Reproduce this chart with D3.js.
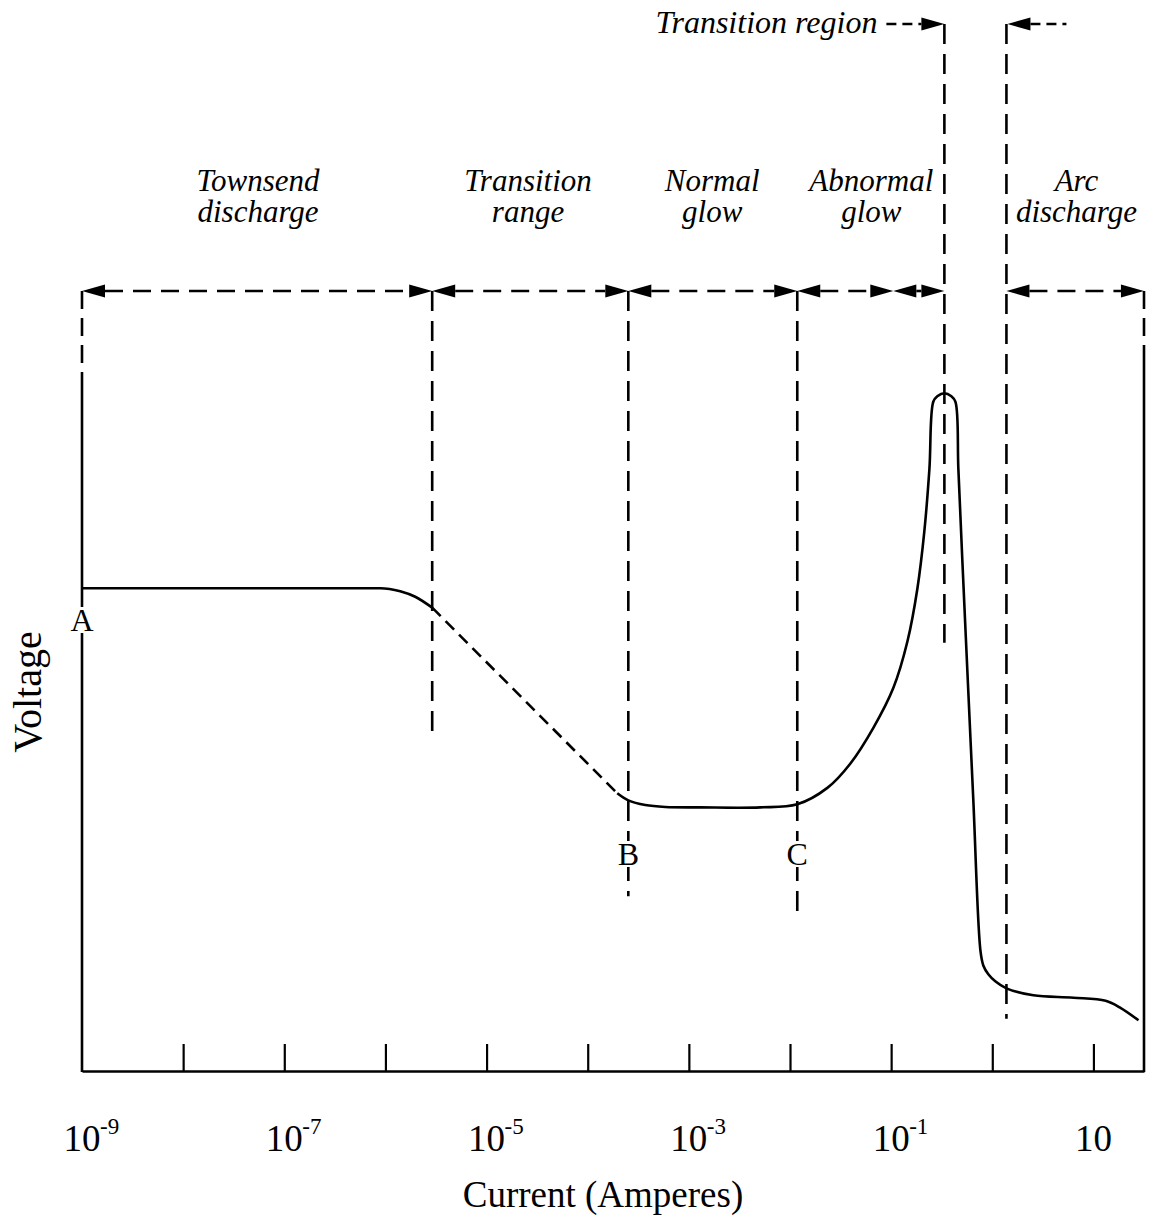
<!DOCTYPE html>
<html>
<head>
<meta charset="utf-8">
<script src="https://cdn.jsdelivr.net/npm/d3@7/dist/d3.min.js"></script>
<style>
  html, body { margin: 0; padding: 0; background: #fff; }
  svg { display: block; }
  text { font-family: "Liberation Serif", "Times New Roman", serif; fill: #000; }
</style>
</head>
<body>
<svg id="chart" width="1156" height="1222"></svg>
<script>
// ---------------- DATA ----------------
// Solid Townsend part (current in A, voltage in arbitrary units 0-100)
const seg1Current = [1e-9, 1.43e-7, 8.87e-7, 1.40e-6, 1.97e-6, 2.90e-6];
const seg1Voltage = [61.9, 61.9, 61.9, 61.5, 60.8, 59.4];
// Dashed transition range
const seg2Current = [2.90e-6, 1.96e-4];
const seg2Voltage = [59.4, 35.6];
// Solid glow / abnormal / arc part
const seg3Current = [1.96e-4, 2.52e-4, 3.71e-4, 5.85e-4, 1.30e-3, 5.08e-3, 1.18e-2, 2.34e-2, 3.94e-2,
  6.67e-2, 0.105, 0.145, 0.182, 0.213, 0.239, 0.261, 0.286, 0.336, 0.394, 0.432, 0.462, 0.506,
  0.581, 0.650, 0.764, 0.817, 0.914, 1.07, 1.38, 2.55, 6.34, 13.2, 18.5, 27.9];
const seg3Voltage = [35.6, 34.7, 34.1, 33.85, 33.8, 33.8, 34.2, 36.3, 39.4,
  44.0, 49.1, 55.1, 61.9, 69.2, 77.2, 85.8, 86.5, 86.9, 86.5, 85.8, 77.2, 65.4,
  48.3, 34.6, 15.4, 13.5, 12.4, 11.5, 10.6, 9.7, 9.4, 9.0, 8.1, 6.5];

// Region boundaries (current, A)
const boundaryCurrents = [2.90e-6, 2.52e-4, 1.18e-2, 0.336, 1.38];
const boundaryBottomVoltage = [42.6, 22.4, 20.2, 54.9, 6.7];
// Double-headed arrow spans
const spanStart = [1e-9, 2.90e-6, 2.52e-4, 1.18e-2, 0.105, 1.38];
const spanEnd   = [2.90e-6, 2.52e-4, 1.18e-2, 0.105, 0.336, 31.6];

// Region names
const regionTop    = ["Townsend", "Transition", "Normal", "Abnormal", "Arc"];
const regionBottom = ["discharge", "range", "glow", "glow", "discharge"];
const regionCenter = [5.5e-8, 2.57e-5, 1.70e-3, 6.37e-2, 6.8];

// Point labels
const pointNames   = ["A", "B", "C"];
const pointCurrent = [1e-9, 2.52e-4, 1.18e-2];

// Axis ticks
const tickCurrents  = [1e-8, 1e-7, 1e-6, 1e-5, 1e-4, 1e-3, 1e-2, 1e-1, 1, 10];
const labelCurrents = [1e-9, 1e-7, 1e-5, 1e-3, 1e-1, 10];
const labelBase     = ["10", "10", "10", "10", "10", "10"];
const labelExp      = ["-9", "-7", "-5", "-3", "-1", ""];

// ---------------- DRAW ----------------
const svg = d3.select("#chart");
const x = d3.scaleLog().domain([1e-9, Math.pow(10, 1.5)]).range([82, 1144]);
const y = d3.scaleLinear().domain([0, 100]).range([1071, 291]);

const LW = 2.6;
const yArrow = 291;
const yTop = 24;

// Axis (bottom) with upward ticks
const axis = d3.axisBottom(x).tickValues(tickCurrents).tickFormat("").tickSizeInner(-27).tickSizeOuter(0);
const gAxis = svg.append("g").attr("transform", `translate(0,${y(0)})`).call(axis);
gAxis.select(".domain").attr("stroke", "#000").attr("stroke-width", LW);
gAxis.selectAll(".tick line").attr("stroke", "#000").attr("stroke-width", 2.2);

// Left and right borders
const xL = x(1e-9), xR = x(Math.pow(10, 1.5));
svg.append("line").attr("x1", xL).attr("x2", xL).attr("y1", yArrow).attr("y2", 378)
  .attr("stroke", "#000").attr("stroke-width", LW).attr("stroke-dasharray", "18,9");
svg.append("line").attr("x1", xL).attr("x2", xL).attr("y1", 378).attr("y2", y(0) + 1)
  .attr("stroke", "#000").attr("stroke-width", LW);
svg.append("line").attr("x1", xR).attr("x2", xR).attr("y1", yArrow).attr("y2", 345)
  .attr("stroke", "#000").attr("stroke-width", LW).attr("stroke-dasharray", "18,9");
svg.append("line").attr("x1", xR).attr("x2", xR).attr("y1", 345).attr("y2", y(0) + 1)
  .attr("stroke", "#000").attr("stroke-width", LW);

// Boundary vertical dashed lines
boundaryCurrents.forEach((c, i) => {
  const top = (i >= 3) ? yTop : yArrow;
  svg.append("line").attr("x1", x(c)).attr("x2", x(c))
    .attr("y1", top).attr("y2", y(boundaryBottomVoltage[i]))
    .attr("stroke", "#000").attr("stroke-width", LW).attr("stroke-dasharray", "20,10");
});

// Arrowhead helper
const AL = 23, AH = 6.5;
function head(tx, ty, dir) { // dir = +1 points right, -1 points left
  const bx = tx - dir * AL;
  svg.append("path").attr("d", `M${tx},${ty}L${bx},${ty - AH}L${bx},${ty + AH}Z`).attr("fill", "#000");
}
function dashLine(x1, x2, yy, dash) {
  svg.append("line").attr("x1", x1).attr("x2", x2).attr("y1", yy).attr("y2", yy)
    .attr("stroke", "#000").attr("stroke-width", LW).attr("stroke-dasharray", dash);
}

// Double-headed spans
spanStart.forEach((s, i) => {
  const a = x(s), b = x(spanEnd[i]);
  head(a, yArrow, -1);
  head(b, yArrow, 1);
  dashLine(a + AL, b - AL, yArrow, "18,10");
});

// Transition region arrows at top
const xT1 = x(boundaryCurrents[3]), xT2 = x(boundaryCurrents[4]);
head(xT1, yTop, 1);
dashLine(xT1 - AL - 35, xT1 - AL, yTop, "10,6");
head(xT2 + 1, yTop, -1);
dashLine(xT2 + 1 + AL, xT2 + 60, yTop, "10,6");
svg.append("text").attr("x", xT1 - AL - 44).attr("y", yTop + 9)
  .attr("text-anchor", "end").attr("font-style", "italic").attr("font-size", 32)
  .text("Transition region");

// Region labels
regionTop.forEach((t, i) => {
  svg.append("text").attr("x", x(regionCenter[i])).attr("y", 191)
    .attr("text-anchor", "middle").attr("font-style", "italic").attr("font-size", 31).text(t);
  svg.append("text").attr("x", x(regionCenter[i])).attr("y", 222)
    .attr("text-anchor", "middle").attr("font-style", "italic").attr("font-size", 31).text(regionBottom[i]);
});

// Curve
const zip = (a, b) => a.map((v, i) => [v, b[i]]);
const line1 = d3.line().x(d => x(d[0])).y(d => y(d[1])).curve(d3.curveMonotoneX);
const line3 = d3.line().x(d => x(d[0])).y(d => y(d[1])).curve(d3.curveCatmullRom.alpha(0.5));
svg.append("path").attr("d", line1(zip(seg1Current, seg1Voltage)))
  .attr("fill", "none").attr("stroke", "#000").attr("stroke-width", LW);
svg.append("path").attr("d", d3.line().x(d => x(d[0])).y(d => y(d[1]))(zip(seg2Current, seg2Voltage)))
  .attr("fill", "none").attr("stroke", "#000").attr("stroke-width", LW).attr("stroke-dasharray", "12,7");
svg.append("path").attr("d", line3(zip(seg3Current, seg3Voltage)))
  .attr("fill", "none").attr("stroke", "#000").attr("stroke-width", LW).attr("stroke-linejoin", "round");

// Point labels (with white backing, interrupting lines as in the original)
const pointY = [631, 865, 865];
pointNames.forEach((n, i) => {
  const cx = x(pointCurrent[i]);
  svg.append("rect").attr("x", cx - 12).attr("y", pointY[i] - 24).attr("width", 24).attr("height", 26)
    .attr("fill", "#fff");
  svg.append("text").attr("x", cx).attr("y", pointY[i])
    .attr("text-anchor", "middle").attr("font-size", 32).text(n);
});

// Tick labels
labelCurrents.forEach((c, i) => {
  svg.append("text").attr("x", x(c)).attr("y", 1151).attr("text-anchor", "middle")
    .attr("font-size", 37).text(labelBase[i]);
  if (labelExp[i]) {
    svg.append("text").attr("x", x(c) + 18).attr("y", 1134).attr("text-anchor", "start")
      .attr("font-size", 23).text(labelExp[i]);
  }
});

// Axis titles
svg.append("text").attr("x", 603).attr("y", 1207).attr("text-anchor", "middle")
  .attr("font-size", 37).text("Current (Amperes)");
svg.append("text").attr("transform", "translate(41,692) rotate(-90)").attr("text-anchor", "middle")
  .attr("font-size", 40).text("Voltage");
</script>
</body>
</html>
